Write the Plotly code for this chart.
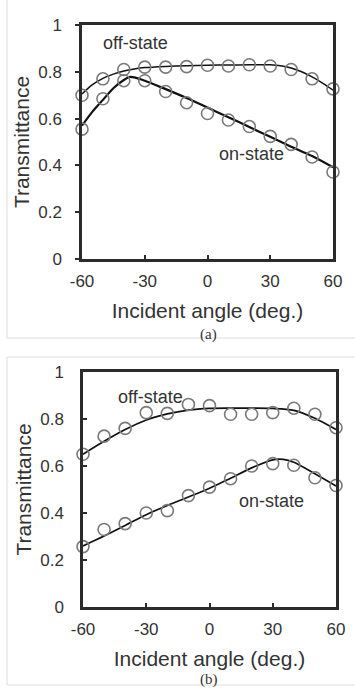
import plotly.graph_objects as go

# ---------------- data ----------------
angles = [-60, -50, -40, -30, -20, -10, 0, 10, 20, 30, 40, 50, 60]

# panel (a) measured points
a_off = [0.70, 0.77, 0.81, 0.82, 0.82, 0.822, 0.828, 0.825, 0.83, 0.825, 0.81, 0.77, 0.727]
a_on = [0.555, 0.685, 0.762, 0.762, 0.716, 0.668, 0.622, 0.594, 0.566, 0.524, 0.49, 0.436, 0.372]

# panel (a) fitted curves
a_off_fit_x = [-60, -55, -50, -45, -40, -35, -30, -20, -10, 0, 10, 20, 30, 35, 40, 45, 50, 55, 60]
a_off_fit = [0.705, 0.745, 0.772, 0.79, 0.803, 0.812, 0.818, 0.823, 0.826, 0.828, 0.829, 0.83, 0.83,
             0.826, 0.816, 0.80, 0.778, 0.752, 0.722]
a_on_fit_x = [-60, -55, -50, -45, -40, -37, -35, -30, -20, -10, 0, 10, 20, 30, 40, 50, 60]
a_on_fit = [0.57, 0.63, 0.68, 0.73, 0.765, 0.778, 0.776, 0.762, 0.726, 0.688, 0.647, 0.606, 0.564,
            0.522, 0.48, 0.44, 0.392]

# panel (b) measured points
b_off = [0.65, 0.727, 0.76, 0.827, 0.824, 0.862, 0.857, 0.82, 0.82, 0.827, 0.846, 0.82, 0.763]
b_on = [0.257, 0.33, 0.355, 0.40, 0.41, 0.474, 0.51, 0.546, 0.60, 0.61, 0.603, 0.55, 0.517]

# panel (b) fitted curves
b_off_fit_x = [-60, -50, -40, -30, -20, -10, 0, 10, 20, 30, 40, 50, 60]
b_off_fit = [0.65, 0.705, 0.755, 0.796, 0.822, 0.838, 0.845, 0.846, 0.846, 0.845, 0.837, 0.803, 0.755]
b_on_fit_x = [-60, -50, -40, -30, -20, -10, 0, 10, 20, 30, 35, 40, 50, 60]
b_on_fit = [0.26, 0.302, 0.347, 0.393, 0.432, 0.468, 0.505, 0.548, 0.592, 0.626, 0.628, 0.616, 0.567, 0.515]

x_ticks = [-60, -30, 0, 30, 60]
x_ticktext = ["-60", "-30", "0", "30", "60"]
y_ticks = [0, 0.2, 0.4, 0.6, 0.8, 1]
y_ticktext = ["0", "0.2", "0.4", "0.6", "0.8", "1"]

panel_labels = ["(a)", "(b)"]
state_labels = ["off-state", "on-state"]

# ---------------- figure ----------------
W, H = 355, 699
FONT = "Liberation Sans, Arial, sans-serif"
TXT = "#333333"
MARK = "#7a7a7a"

fig = go.Figure()

def px_x(p):
    return p / W

def px_y(p):
    return 1 - p / H

panels = [
    dict(xa="x", ya="y", xd=[px_x(82), px_x(333)], yd=[px_y(259), px_y(25)],
         off=a_off, on=a_on, offfx=a_off_fit_x, offf=a_off_fit, onfx=a_on_fit_x, onf=a_on_fit,
         offw=1.5, onw=2.2,
         off_lbl=(-34.5, 0.923), on_lbl=(21, 0.449)),
    dict(xa="x2", ya="y2", xd=[px_x(83), px_x(336)], yd=[px_y(607), px_y(372)],
         off=b_off, on=b_on, offfx=b_off_fit_x, offf=b_off_fit, onfx=b_on_fit_x, onf=b_on_fit,
         offw=1.7, onw=1.7,
         off_lbl=(-28.2, 0.895), on_lbl=(29.6, 0.452)),
]

for i, p in enumerate(panels):
    for fx, fy, w in [(p["offfx"], p["offf"], p["offw"]), (p["onfx"], p["onf"], p["onw"])]:
        fig.add_trace(go.Scatter(x=fx, y=fy, mode="lines", xaxis=p["xa"], yaxis=p["ya"],
                                 line=dict(color="#111111", width=w, shape="spline", smoothing=0.8),
                                 showlegend=False, hoverinfo="skip", cliponaxis=False))
    for ys in (p["off"], p["on"]):
        fig.add_trace(go.Scatter(x=angles, y=ys, mode="markers", xaxis=p["xa"], yaxis=p["ya"],
                                 marker=dict(symbol="circle-open", size=12, color=MARK,
                                             line=dict(width=1.6, color=MARK)),
                                 showlegend=False, cliponaxis=False))
    xr = "x" if i == 0 else "x2"
    yr = "y" if i == 0 else "y2"
    fig.add_annotation(x=p["off_lbl"][0], y=p["off_lbl"][1], xref=xr, yref=yr, text=state_labels[0],
                       showarrow=False, font=dict(family=FONT, size=18, color=TXT))
    fig.add_annotation(x=p["on_lbl"][0], y=p["on_lbl"][1], xref=xr, yref=yr, text=state_labels[1],
                       showarrow=False, font=dict(family=FONT, size=18, color=TXT))

axis_common_x = dict(range=[-60, 60], tickvals=x_ticks, ticktext=x_ticktext, automargin=False,
                     showgrid=False, zeroline=False, showline=True, mirror=True,
                     linecolor="#2b2b2b", linewidth=2.5, ticks="inside", ticklen=4,
                     tickcolor="#2b2b2b", tickwidth=1.5, ticklabelstandoff=5,
                     tickfont=dict(family=FONT, size=17, color=TXT),
                     title=dict(text="Incident angle (deg.)", font=dict(family=FONT, size=21, color=TXT),
                                standoff=14))

def y_axis(ticks, label_standoff):
    return dict(range=[0, 1], tickvals=y_ticks, ticktext=y_ticktext, automargin=False,
                showgrid=False, zeroline=False, showline=True, mirror=True,
                linecolor="#2b2b2b", linewidth=2.5, ticks=ticks, ticklen=4,
                tickcolor="#2b2b2b", tickwidth=1.5, ticklabelstandoff=label_standoff,
                tickfont=dict(family=FONT, size=17, color=TXT),
                title=dict(text="Transmittance", font=dict(family=FONT, size=21, color=TXT),
                           standoff=3))

fig.update_layout(
    width=W, height=H,
    margin=dict(l=0, r=0, t=0, b=0),
    paper_bgcolor="white", plot_bgcolor="white",
    xaxis=dict(domain=panels[0]["xd"], anchor="y", **axis_common_x),
    yaxis=dict(domain=panels[0]["yd"], anchor="x", **y_axis("outside", 10)),
    xaxis2=dict(domain=panels[1]["xd"], anchor="y2", **axis_common_x),
    yaxis2=dict(domain=panels[1]["yd"], anchor="x2", **y_axis("inside", 13)),
)

# panel captions
fig.add_annotation(x=px_x(208), y=px_y(334), xref="paper", yref="paper", text=panel_labels[0],
                   showarrow=False, font=dict(family="Liberation Serif, serif", size=15, color=TXT))
fig.add_annotation(x=px_x(209), y=px_y(690), xref="paper", yref="paper", text=panel_labels[1],
                   showarrow=False, font=dict(family="Liberation Serif, serif", size=15, color=TXT))

# faint panel frames
BORDER = "#dddddd"
for (x0, y0, x1, y1) in [(7, 0, 7, 338), (7, 338, 355, 338),
                         (7, 357, 355, 357), (7, 357, 7, 685), (7, 685, 355, 685)]:
    fig.add_shape(type="line", xref="paper", yref="paper",
                  x0=px_x(x0), y0=px_y(y0), x1=px_x(x1), y1=px_y(y1),
                  line=dict(color=BORDER, width=1), layer="below")

fig.write_html("out.html", config={"displayModeBar": False},
               post_script="document.body.style.margin='0';")
